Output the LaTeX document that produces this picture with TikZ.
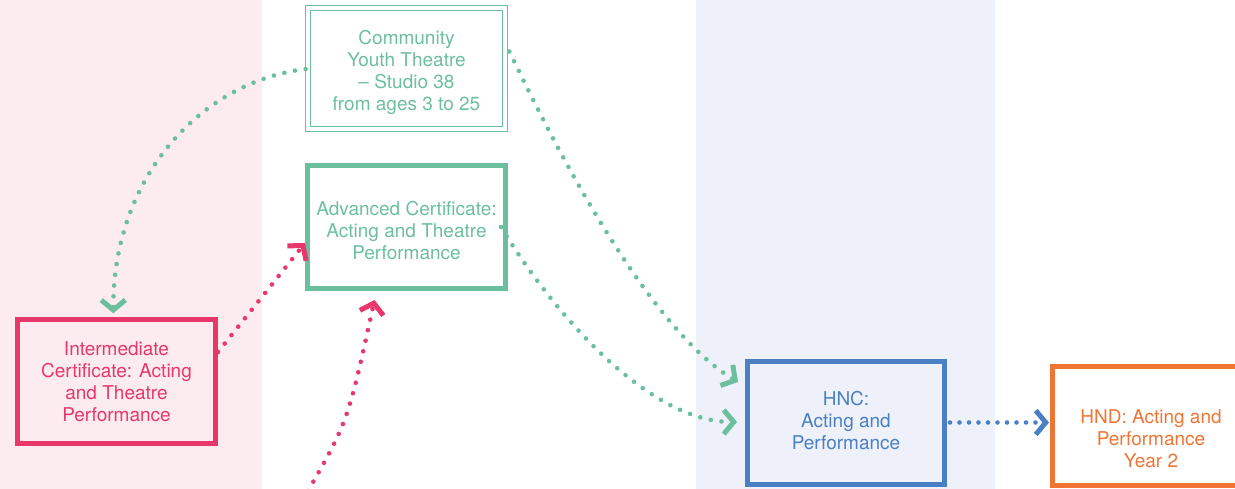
\documentclass[tikz,border=0pt]{standalone}
\usepackage{fontspec}
\setmainfont{TeX Gyre Heros}
\usetikzlibrary{arrows.meta,calc}
\definecolor{cgreen}{HTML}{6CBF9D}
\definecolor{cpink}{HTML}{E8386B}
\definecolor{cblue}{HTML}{4A80C3}
\definecolor{corange}{HTML}{F07433}
\definecolor{bgpink}{HTML}{FCEBEF}
\definecolor{bgblue}{HTML}{EEF1FA}
\begin{document}
\begin{tikzpicture}[x=1pt,y=-1pt,
  box/.style={draw, line width=5pt, minimum width=198pt, minimum height=123pt, inner sep=0pt},
  lbl/.style={align=center, font=\fontsize{19}{22}\selectfont, inner sep=0pt},
  dots/.style={line width=4.6pt, line cap=round, dash pattern=on 0pt off 10.8pt},
  chev/.style={-{Straight Barb[length=10pt,width=24pt,line width=5pt]}},
]
\useasboundingbox (0,0) rectangle (1235,489);
\fill[bgpink] (0,0) rectangle (262,489);
\fill[bgblue] (696,0) rectangle (995,489);

\node[box, draw=cgreen, line width=1.2pt, outer sep=0pt,
  minimum width=201.8pt, minimum height=125.8pt] (comm) at (406.5,68.5) {};
\draw[cgreen, line width=1.2pt] ($(comm.north west)+(4.6,4.6)$) rectangle ($(comm.south east)+(-4.6,-4.6)$);
\node[lbl, text=cgreen] (commtext) at (406.5,72.5)
  {Community\\Youth Theatre\\– Studio 38\\from ages 3 to 25};
\node[box, draw=cgreen] (adv) at (406.5,227) {};
\node[lbl, text=cgreen] (advtext) at (406.5,231)
  {Advanced Certificate:\\Acting and Theatre\\Performance};
\node[box, draw=cpink, minimum height=124pt] (inter) at (116.5,381.5) {};
\node[lbl, text=cpink] (intertext) at (116.5,381.5)
  {Intermediate\\Certificate: Acting\\and Theatre\\Performance};
\node[box, draw=cblue, minimum width=197pt] (hnc) at (846,423) {};
\node[lbl, text=cblue] (hnctext) at (846,421)
  {HNC:\\Acting and\\Performance};
\node[box, draw=corange, minimum width=197pt, minimum height=119pt] (hnd) at (1151,426) {};
\node[lbl, text=corange] (hndtext) at (1151,439) {HND: Acting and\\Performance\\Year 2};

\draw[cgreen, dots, chev] ($(comm.west)+(0,0.5)$) .. controls (200,82) and (113,178) .. ($(inter.north)+(-3.2,-3.7)$);
\draw[cgreen, dots, chev] ($(comm.east)+(2,-17)$) .. controls (590,220) and (668,340) .. ($(hnc.west)+(-7,-41)$);
\draw[cgreen, dots, chev] ($(adv.east)+(-7,0)$) .. controls (551,310) and (647,422) .. ($(hnc.west)+(-8,-1)$);
\draw[cpink, dots, chev] ($(inter.east)+(0,-29.5)$) -- ($(adv.west)+(0,16)$);
\coordinate (pstart) at (308,491);
\draw[cpink, dots, chev] (pstart) .. controls (348,421) .. ($(adv.south)+(-32,9)$);
\draw[cblue, dots, dash pattern=on 0pt off 9.5pt, chev] ($(hnc.east)+(3,-0.5)$) -- ($(hnd.west)+(-1,-3.5)$);
\end{tikzpicture}
\end{document}
